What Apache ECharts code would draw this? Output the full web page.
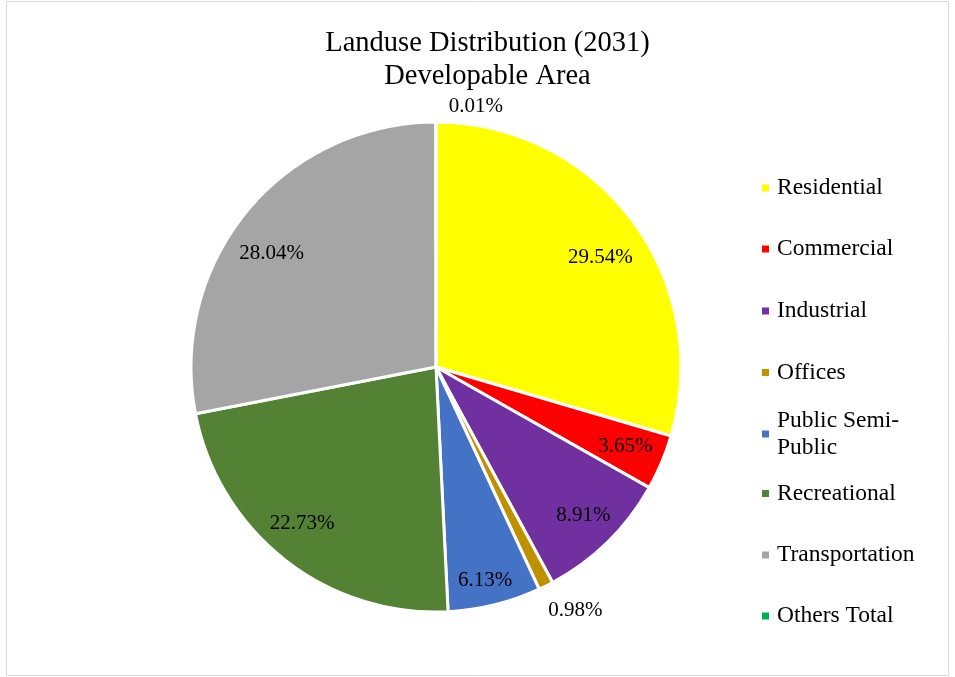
<!DOCTYPE html>
<html>
<head>
<meta charset="utf-8">
<script src="https://cdn.jsdelivr.net/npm/echarts@6/dist/echarts.min.js"></script>
<style>html,body{margin:0;padding:0;background:#fff}#c{width:955px;height:677px}</style>
</head>
<body>
<div id="c"></div>
<script>
const categories = ['Residential','Commercial','Industrial','Offices','Public Semi-Public','Recreational','Transportation','Others Total'];
const values = [29.54, 3.65, 8.91, 0.98, 6.13, 22.73, 28.04, 0.01];
const colors = ['#FFFF00','#FF0000','#7030A0','#BF9000','#4472C4','#548235','#A5A5A5','#00B050'];
const outsideLabels = [3, 7];

const FONT = '"Liberation Serif","Times New Roman",serif';
const chart = echarts.init(document.getElementById('c'));

// layout-only: legend row centres and label nudges (Excel-like placement)
const LEGEND_Y = [188, 249, 311, 372.5, 434, 493.5, 555, 616];
const LABEL_NUDGE = [[-3, 16], [-3, -2], [1, -1], [-14, 2], [-1, 11], [-5, -8], [-3, 19], [72, 2]];

const mainData = categories.map((n, i) => ({name: n, value: values[i], itemStyle: {color: colors[i]}}));
const labelData = categories.map((n, i) => {
  const d = {name: n, value: values[i]};
  if (outsideLabels.includes(i)) {
    d.label = {position: 'outside'};
    d.labelLine = {show: false, length: i === 7 ? 18 : 25, length2: 0};
  }
  return d;
});

const legends = categories.map((n, i) => {
  const twoLine = n === 'Public Semi-Public';
  return {
    data: [n],
    orient: 'vertical',
    left: 762,
    top: twoLine ? LEGEND_Y[i] - 40.5 : LEGEND_Y[i] - 13.5,
    padding: 0,
    itemWidth: 7,
    itemHeight: 7,
    itemGap: 0,
    icon: 'rect',
    selectedMode: false,
    itemStyle: {borderWidth: 0},
    formatter: twoLine ? 'Public Semi-\nPublic' : '{name}',
    textStyle: {
      fontFamily: FONT, fontSize: 23.5, color: '#000', lineHeight: 27,
      padding: twoLine ? [27, 0, 0, 3] : [0, 0, 0, 3]
    }
  };
});

chart.setOption({
  backgroundColor: '#fff',
  animation: false,
  title: {
    text: 'Landuse Distribution (2031)\nDevelopable Area',
    left: 487.5,
    top: 27,
    padding: 0,
    textAlign: 'center',
    textStyle: {fontFamily: FONT, fontSize: 28.5, fontWeight: 'normal', color: '#000', lineHeight: 33}
  },
  legend: legends,
  graphic: [{
    type: 'rect', shape: {x: 6.5, y: 1.5, width: 942, height: 674},
    style: {fill: 'none', stroke: '#d9d9d9', lineWidth: 1}, silent: true, z: -10
  }],
  series: [
    {
      type: 'pie',
      center: [436, 367],
      radius: [0, 245],
      startAngle: 90,
      clockwise: true,
      label: {show: false},
      labelLine: {show: false},
      itemStyle: {borderColor: '#fff', borderWidth: 3},
      emphasis: {disabled: true},
      data: mainData
    },
    {
      type: 'pie',
      center: [436, 367],
      radius: [167, 245],
      startAngle: 90,
      clockwise: true,
      silent: true,
      avoidLabelOverlap: false,
      itemStyle: {color: 'transparent', borderWidth: 0},
      emphasis: {disabled: true},
      label: {
        show: true, position: 'inside',
        fontFamily: FONT, fontSize: 21, color: '#000',
        formatter: p => p.value.toFixed(2) + '%'
      },
      labelLine: {show: false},
      labelLayout: p => ({dx: LABEL_NUDGE[p.dataIndex][0], dy: LABEL_NUDGE[p.dataIndex][1]}),
      data: labelData
    }
  ]
});
</script>
</body>
</html>
